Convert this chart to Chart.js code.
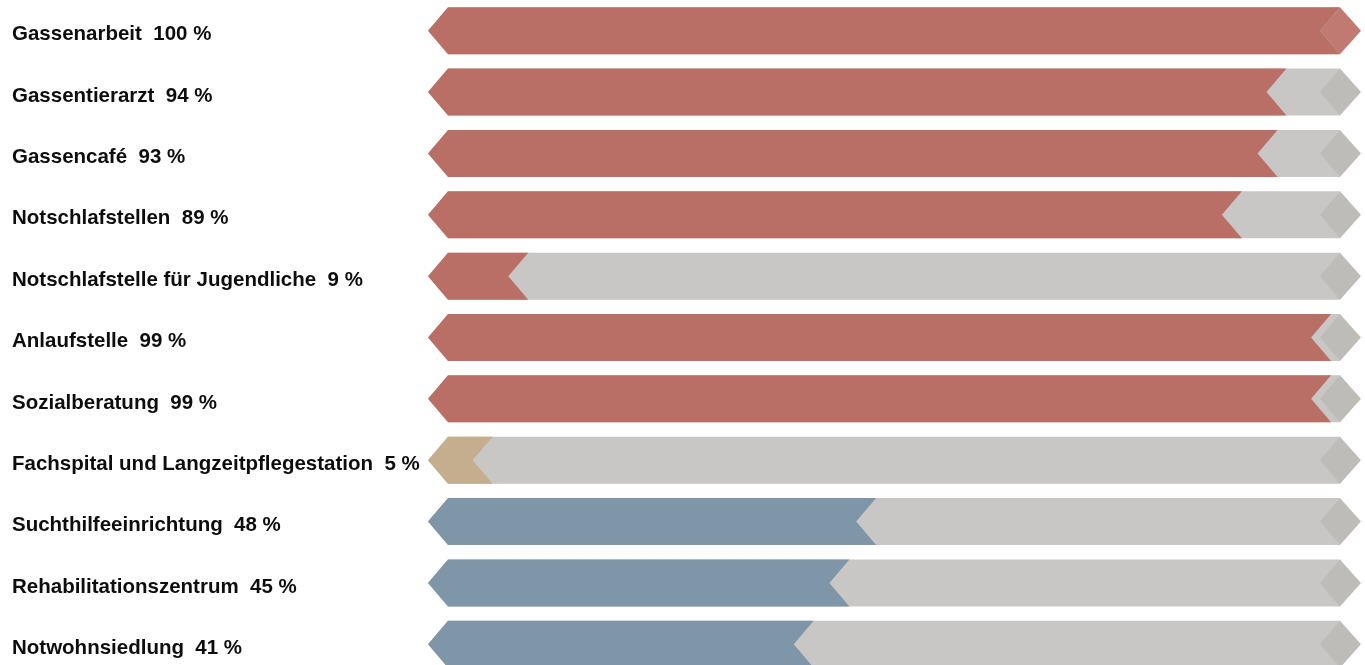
<!DOCTYPE html>
<html>
<head>
<meta charset="utf-8">
<script src="https://cdn.jsdelivr.net/npm/chart.js@4.4.1/dist/chart.umd.min.js"></script>
<style>
  html, body { margin: 0; padding: 0; background: #ffffff; overflow: hidden; }
  #wrap { width: 1365px; height: 665px; overflow: hidden; }
</style>
</head>
<body>
<div id="wrap">
  <canvas id="arrowChart" width="1365" height="675"></canvas>
</div>
<script>
// Angebote und Anteil der Nutzung
const categories = [
  "Gassenarbeit",
  "Gassentierarzt",
  "Gassencafé",
  "Notschlafstellen",
  "Notschlafstelle für Jugendliche",
  "Anlaufstelle",
  "Sozialberatung",
  "Fachspital und Langzeitpflegestation",
  "Suchthilfeeinrichtung",
  "Rehabilitationszentrum",
  "Notwohnsiedlung"
];
const percentages = [100, 94, 93, 89, 9, 99, 99, 5, 48, 45, 41];
const fullScale = [100, 100, 100, 100, 100, 100, 100, 100, 100, 100, 100];

const RED = "#b96e66";
const TAN = "#c4ae8e";
const BLUE = "#7f95a8";
const GRAY = "#c8c7c5";
const barColors = [RED, RED, RED, RED, RED, RED, RED, TAN, BLUE, BLUE, BLUE];

const TIP = 20; // width of the arrow points in px

// labels like "Gassenarbeit  100 %"
const yLabels = categories.map((name, i) => name + "  " + percentages[i] + " %");

function lighter(color) {
  // tip of a fully coloured bar is a bit lighter
  if (color === RED) return "#c17a71";
  if (color === TAN) return "#cbb797";
  if (color === BLUE) return "#889db0";
  return "#bdbcb9";
}

const arrowBars = {
  id: "arrowBars",
  beforeDatasetDraw(chart, args) {
    const ctx = chart.ctx;
    const ds = chart.data.datasets[args.index];
    args.meta.data.forEach((bar, i) => {
      const { x, y, base, height } = bar.getProps(["x", "y", "base", "height"], true);
      const top = y - height / 2;
      const bot = y + height / 2;
      const color = Array.isArray(ds.backgroundColor) ? ds.backgroundColor[i] : ds.backgroundColor;
      ctx.save();
      ctx.fillStyle = color;
      ctx.beginPath();
      ctx.moveTo(base - TIP, y);
      ctx.lineTo(base, top);
      ctx.lineTo(x, top);
      if (ds.notched) {
        ctx.lineTo(x - TIP, y);
      }
      ctx.lineTo(x, bot);
      ctx.lineTo(base, bot);
      ctx.closePath();
      ctx.fill();
      ctx.restore();
    });
    return false;
  },
  afterDatasetsDraw(chart) {
    const ctx = chart.ctx;
    const track = chart.getDatasetMeta(1);
    track.data.forEach((bar, i) => {
      const { x, y, height } = bar.getProps(["x", "y", "height"], true);
      const top = y - height / 2;
      const bot = y + height / 2;
      const full = percentages[i] >= fullScale[i];
      ctx.save();
      ctx.fillStyle = full ? lighter(barColors[i]) : "#bdbcb9";
      ctx.beginPath();
      ctx.moveTo(x - TIP, y);
      ctx.lineTo(x, top);
      ctx.lineTo(x + TIP + 1, y);
      ctx.lineTo(x, bot);
      ctx.closePath();
      ctx.fill();
      ctx.restore();
    });
  }
};

const ctx = document.getElementById("arrowChart").getContext("2d");

new Chart(ctx, {
  type: "bar",
  data: {
    labels: yLabels,
    datasets: [
      {
        label: "Anteil",
        data: percentages,
        backgroundColor: barColors,
        notched: true,
        grouped: false,
        barThickness: 47
      },
      {
        label: "Gesamt",
        data: fullScale,
        backgroundColor: GRAY,
        notched: false,
        grouped: false,
        barThickness: 47
      }
    ]
  },
  options: {
    indexAxis: "y",
    responsive: false,
    animation: false,
    devicePixelRatio: 1,
    layout: {
      padding: { left: 12, right: 25, top: 0, bottom: 0 }
    },
    scales: {
      x: {
        min: 0,
        max: 100,
        display: false
      },
      y: {
        grid: { display: false },
        border: { display: false },
        afterFit: (scale) => {
          scale.width = 436;
          // no extra room above/below for the labels
          scale.paddingTop = 0;
          scale.paddingBottom = 0;
        },
        ticks: {
          crossAlign: "far",
          color: "#0d0d0d",
          labelOffset: 4,
          font: {
            family: "'Liberation Sans', Arial, sans-serif",
            size: 20.5,
            weight: "bold"
          }
        }
      }
    },
    plugins: {
      legend: { display: false },
      tooltip: { enabled: false }
    }
  },
  plugins: [arrowBars]
});
</script>
</body>
</html>
